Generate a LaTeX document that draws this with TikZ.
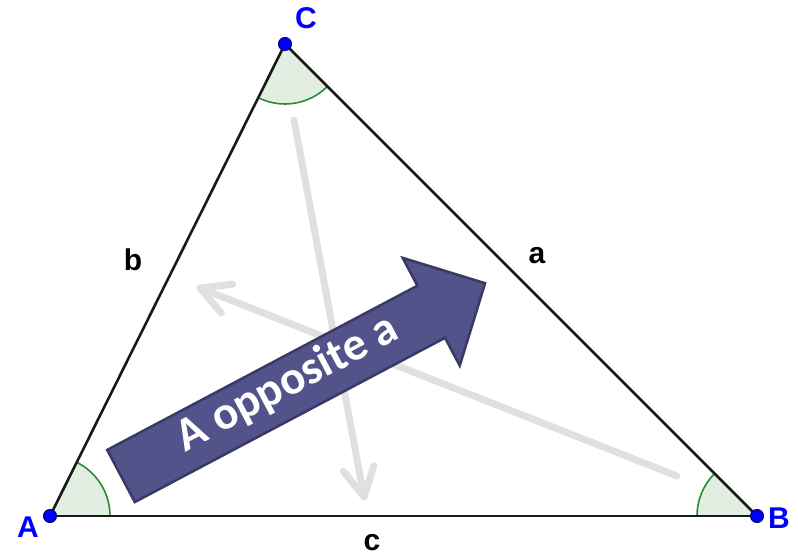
\documentclass[tikz,border=0pt]{standalone}
\usepackage{fontspec}
\setmainfont{Liberation Sans}
\newfontfamily\carl{Carlito}
\usetikzlibrary{calc}
\definecolor{angfill}{RGB}{225,238,225}
\definecolor{angline}{RGB}{40,140,50}
\definecolor{arrfill}{RGB}{82,83,138}
\definecolor{arrline}{RGB}{57,57,102}
\definecolor{ghost}{RGB}{224,224,224}
\definecolor{ptblue}{RGB}{0,0,255}
\definecolor{ptedge}{RGB}{0,0,120}
\tikzset{
  side/.style={draw=black!90, line width=2.6pt},
  angsector/.style={fill=angfill},
  angarc/.style={draw=angline, line width=1.6pt},
  ghostline/.style={draw=ghost, line width=7pt, line cap=round, line join=round},
  vertexdot/.style={circle, fill=ptblue, draw=ptedge, line width=1pt, minimum size=13pt, inner sep=0pt},
  vlabel/.style={text=ptblue, font=\bfseries\fontsize{30}{30}\selectfont},
  slabel/.style={text=black, font=\bfseries\fontsize{30}{30}\selectfont},
  bigarrow/.style={fill=arrfill, draw=arrline, line width=2.5pt, line join=miter},
}
\begin{document}
\begin{tikzpicture}[x=1pt,y=1pt]
\useasboundingbox (0,0) rectangle (798,556);
\coordinate (A) at (50,40);
\coordinate (B) at (757,40);
\coordinate (C) at (285,512);
% angle sectors
\fill[angsector] (A) -- ++(0:60) arc[start angle=0,end angle=63.5,radius=60] -- cycle;
\fill[angsector] (B) -- ++(135:60) arc[start angle=135,end angle=180,radius=60] -- cycle;
\fill[angsector] (C) -- ++(243.5:60) arc[start angle=243.5,end angle=315,radius=60] -- cycle;
\draw[angarc] ($(A)+(0:60)$) arc[start angle=0,end angle=63.5,radius=60];
\draw[angarc] ($(B)+(135:60)$) arc[start angle=135,end angle=180,radius=60];
\draw[angarc] ($(C)+(243.5:60)$) arc[start angle=243.5,end angle=315,radius=60];
% triangle sides
\draw[side] (A) -- (B);
\draw[side] (B) -- (C);
\draw[side] (C) -- (A);
% ghost arrows
\coordinate (s1) at (294,436);
\coordinate (t1) at (364,59);
\coordinate (s2) at (677,80);
\coordinate (t2) at (200,268);
\draw[ghostline] (s1) -- (t1);
\draw[ghostline] ($(t1)!29pt!(s1)!15.5pt!90:(t1)$) -- (t1) -- ($(t1)!29pt!(s1)!15.5pt!-90:(t1)$);
\draw[ghostline] (s2) -- (t2);
\draw[ghostline] ($(t2)!29pt!(s2)!15.5pt!90:(t2)$) -- (t2) -- ($(t2)!29pt!(s2)!15.5pt!-90:(t2)$);
% big block arrow
\begin{scope}[shift={(121,80)}, rotate=27.9]
\draw[bigarrow] (0,-29.5) -- (351,-29.5) -- (351,-61) -- (412,0) -- (351,61) -- (351,29.5) -- (0,29.5) -- cycle;
\node[anchor=base, rotate=27.9, text=white, font=\carl\bfseries\fontsize{47}{47}\selectfont, inner sep=0pt] (txt) at (190,-9) {A opposite a};
\end{scope}
% vertices
\node[vertexdot] (dA) at (A) {};
\node[vertexdot] (dB) at (B) {};
\node[vertexdot] (dC) at (C) {};
\node[vlabel] (lA) at (28,29) {A};
\node[vlabel] (lB) at (779,38) {B};
\node[vlabel] (lC) at (306,538) {C};
\node[slabel] (lb) at (133,296) {b};
\node[slabel] (la) at (537,300) {a};
\node[slabel] (lc) at (372,13) {c};
\end{tikzpicture}
\end{document}
